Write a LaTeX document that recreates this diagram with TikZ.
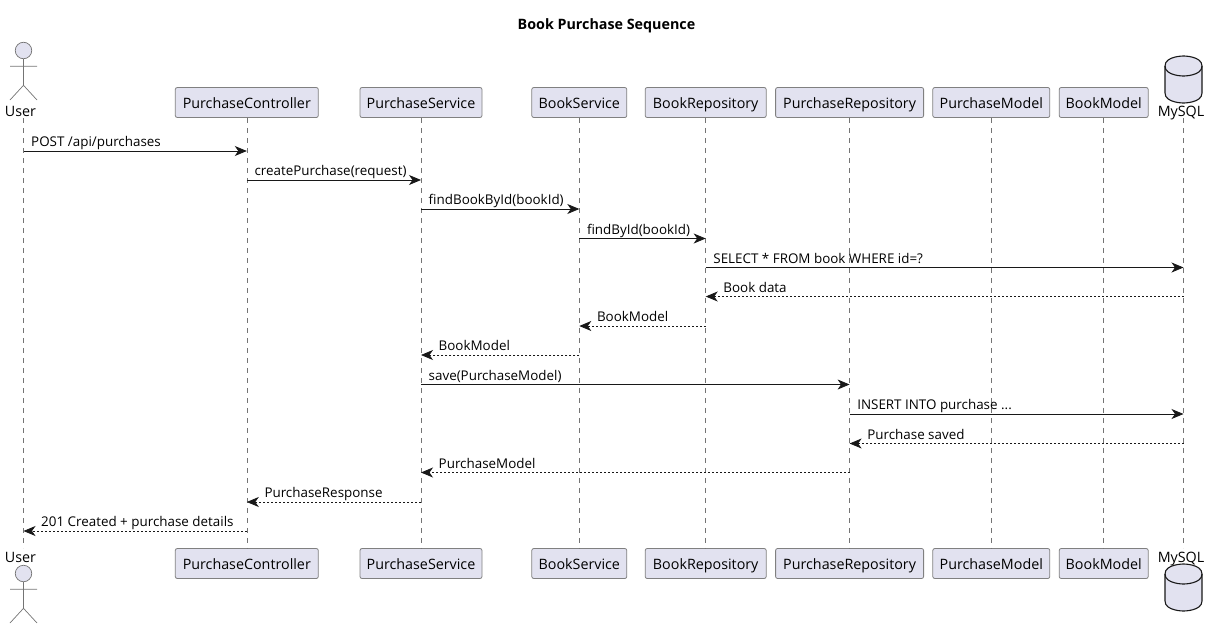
\documentclass[tikz,border=0pt]{standalone}
\usepackage{fontspec}
\setmainfont{Open Sans}
\usetikzlibrary{arrows.meta}
\definecolor{partfill}{HTML}{E2E2F0}
\definecolor{partline}{HTML}{181818}
\tikzset{
  partbox/.style={draw=partline!55,line width=0.8pt,fill=partfill,rounded corners=2pt,minimum height=30pt,inner sep=0pt,text height=11.5pt,text depth=0.5pt,font=\fontsize{14.3}{16}\selectfont},
  actorlbl/.style={inner sep=0pt,text height=11pt,text depth=1pt,font=\fontsize{14.3}{16}\selectfont},
  actorline/.style={draw=partline!60,line width=0.7pt},
  actorhead/.style={actorline,circle,fill=partfill,minimum size=16.5pt,inner sep=0pt},
  lifeline/.style={draw=partline!60,line width=0.5pt,dash pattern=on 5pt off 5pt},
  msg/.style={draw=partline,line width=0.8pt,-{Stealth[length=12pt,width=10pt,inset=3.5pt]}},
  reply/.style={msg,dash pattern=on 2pt off 2pt},
  msglbl/.style={inner sep=0pt,anchor=base west,font=\fontsize{13.4}{15}\selectfont},
  dbcyl/.pic={
    \draw[draw=partline,line width=1.1pt,fill=partfill,line join=round]
      (-18.5,-13.5) .. controls (-18.5,-23.5) and (0,-23.5) .. (0,-23.5)
      .. controls (0,-23.5) and (18.5,-23.5) .. (18.5,-13.5) -- (18.5,13.5)
      .. controls (18.5,23.5) and (0,23.5) .. (0,23.5)
      .. controls (0,23.5) and (-18.5,23.5) .. (-18.5,13.5) -- cycle;
    \draw[draw=partline,line width=1.1pt]
      (-18.5,-13.5) .. controls (-18.5,-3.5) and (0,-3.5) .. (0,-3.5)
      .. controls (0,-3.5) and (18.5,-3.5) .. (18.5,-13.5);
  }
}
\begin{document}
\begin{tikzpicture}[x=1pt,y=-1pt]
  \useasboundingbox (0,0) rectangle (1217,629);
  \node[font=\bfseries\fontsize{14.3}{16}\selectfont] (title) at (606.5,26) {Book Purchase Sequence};
  % participants, top and bottom
  \foreach \name/\x/\w/\txt in {pc/246.8/143/PurchaseController,ps/421/122/PurchaseService,bs/579.3/95/BookService,br/705.7/121/BookRepository,pr/849.6/148/PurchaseRepository,pm/991.3/117/PurchaseModel,bm/1103.7/89/BookModel} {
    \node[partbox,minimum width=\w pt] (\name) at (\x,102.5) {\txt};
    \node[partbox,minimum width=\w pt] (\name B) at (\x,563.5) {\txt};
    \draw[lifeline] (\name) -- (\name B);
  }
  % user
  \coordinate (user) at (23.5,118);
  \coordinate (userB) at (23.5,548);
  \draw[lifeline] (user) -- (userB);
  \node[actorlbl] (userlbl) at (20.5,111) {User};
  \node[actorlbl] (userlblB) at (20.5,557) {User};
  \node[actorhead] (userhead) at (23.5,50.5) {};
  \node[actorhead] (userheadB) at (23.5,573.5) {};
  \draw[actorline] (userhead) -- (23.5,85.3) -- (10,100) (23.5,85.3) -- (37,100) (10,66.3) -- (37,66.3);
  \draw[actorline] (userheadB) -- (23.5,608.3) -- (10,623) (23.5,608.3) -- (37,623) (10,589.3) -- (37,589.3);
  % database
  \coordinate (db) at (1183.5,118);
  \coordinate (dbB) at (1183.5,548);
  \draw[lifeline] (db) -- (dbB);
  \node[actorlbl] (dblbl) at (1181,111) {MySQL};
  \node[actorlbl] (dblblB) at (1181,557) {MySQL};
  \pic (dbtop) at (1183.5,79.5) {dbcyl};
  \pic (dbbot) at (1183.5,587.5) {dbcyl};
  % calls
  \foreach \from/\to/\y/\txt in {user/pc/151/{POST /api/purchases},pc/ps/180/{createPurchase(request)},ps/bs/209/{findBookById(bookId)},bs/br/238.5/{findById(bookId)},br/db/267.5/{SELECT * FROM book WHERE id=?},ps/pr/384.5/{save(PurchaseModel)},pr/db/414/{INSERT INTO purchase ...}} {
    \coordinate (a) at (\from |- 0,\y);
    \coordinate (b) at (\to |- 0,\y);
    \draw[msg] (a) -- (b);
    \node[msglbl] at ([shift={(7.5,-4.5)}]a) {\txt};
  }
  % returns
  \foreach \from/\to/\y/\txt in {db/br/296.5/{Book data},br/bs/326/{BookModel},bs/ps/355/{BookModel},db/pr/443.5/{Purchase saved},pr/ps/472.5/{PurchaseModel},ps/pc/502/{PurchaseResponse},pc/user/531/{201 Created + purchase details}} {
    \coordinate (a) at (\from |- 0,\y);
    \coordinate (b) at (\to |- 0,\y);
    \draw[reply] (a) -- (b);
    \node[msglbl] at ([shift={(17.5,-4.5)}]b) {\txt};
  }
\end{tikzpicture}
\end{document}
